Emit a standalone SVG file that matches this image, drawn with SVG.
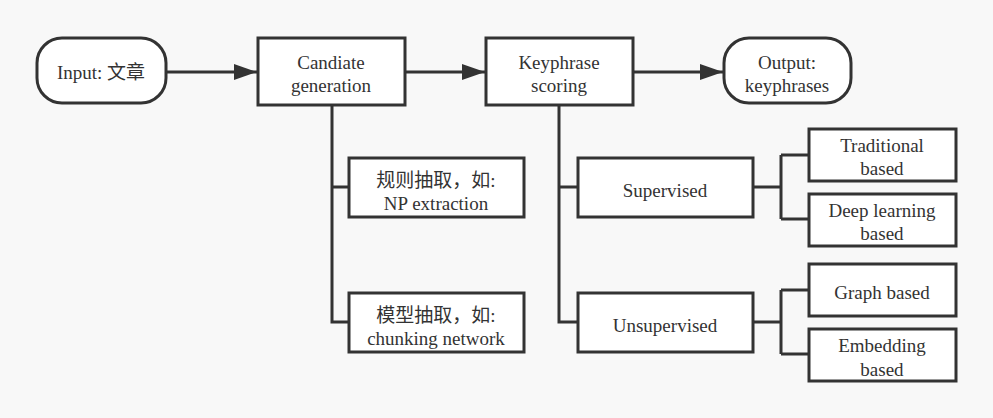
<svg xmlns="http://www.w3.org/2000/svg" width="993" height="418" viewBox="0 0 993 418">
<style>
.n{fill:#fff;stroke:#333;stroke-width:3}
.c{fill:none;stroke:#333;stroke-width:3}
text{font-family:"Liberation Serif","Noto Sans CJK SC",serif;font-size:19px;fill:#333;text-anchor:middle}
</style>
<defs>
<marker id="ah" markerUnits="userSpaceOnUse" markerWidth="24" markerHeight="18" refX="23" refY="9" orient="auto">
<path d="M0,1 L23,9 L0,17 Z" fill="#333"/>
</marker>
</defs>
<rect width="993" height="418" fill="#f8f8f8"/>
<g id="connectors">
<path class="c" d="M166,72 H257" marker-end="url(#ah)"/>
<path class="c" d="M406,72 H485" marker-end="url(#ah)"/>
<path class="c" d="M634,72 H723" marker-end="url(#ah)"/>
<path class="c" d="M332,106 V322 H349 M332,187 H349"/>
<path class="c" d="M559,106 V322 H578 M559,187 H578"/>
<path class="c" d="M753,187 H781 M781,155 V219 M781,155 H809 M781,219 H809"/>
<path class="c" d="M753,322 H781 M781,290 V354 M781,290 H809 M781,354 H809"/>
</g>
<g id="input">
<rect class="n" x="37" y="38" width="129" height="65" rx="25"/>
<text x="101" y="79">Input: 文章</text>
</g>
<g id="candidate">
<rect class="n" x="258" y="38" width="147" height="67"/>
<text x="331" y="69">Candiate</text>
<text x="331" y="92">generation</text>
</g>
<g id="keyphrase">
<rect class="n" x="486" y="38" width="147" height="67"/>
<text x="559" y="69">Keyphrase</text>
<text x="559" y="92">scoring</text>
</g>
<g id="output">
<rect class="n" x="724" y="38" width="127" height="65" rx="25"/>
<text x="787" y="69">Output:</text>
<text x="787" y="92">keyphrases</text>
</g>
<g id="rule">
<rect class="n" x="349" y="158" width="175" height="59"/>
<text x="436" y="187">规则抽取，如:</text>
<text x="436" y="210">NP extraction</text>
</g>
<g id="model">
<rect class="n" x="349" y="293" width="175" height="59"/>
<text x="436" y="322">模型抽取，如:</text>
<text x="436" y="345">chunking network</text>
</g>
<g id="supervised">
<rect class="n" x="578" y="158" width="175" height="59"/>
<text x="665" y="197">Supervised</text>
</g>
<g id="unsupervised">
<rect class="n" x="578" y="293" width="175" height="59"/>
<text x="665" y="332">Unsupervised</text>
</g>
<g id="traditional">
<rect class="n" x="809" y="129" width="147" height="52"/>
<text x="882" y="152">Traditional</text>
<text x="882" y="175">based</text>
</g>
<g id="deep">
<rect class="n" x="809" y="194" width="147" height="52"/>
<text x="882" y="217">Deep learning</text>
<text x="882" y="240">based</text>
</g>
<g id="graph">
<rect class="n" x="809" y="264" width="147" height="52"/>
<text x="882" y="299">Graph based</text>
</g>
<g id="embedding">
<rect class="n" x="809" y="329" width="147" height="52"/>
<text x="882" y="352">Embedding</text>
<text x="882" y="376">based</text>
</g>
</svg>
